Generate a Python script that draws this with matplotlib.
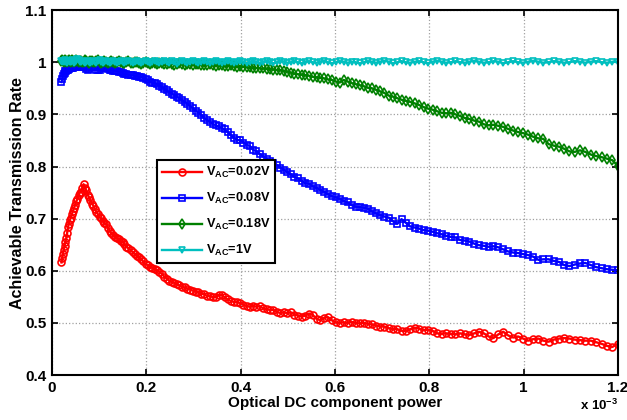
import numpy as np
import matplotlib.pyplot as plt
from matplotlib.ticker import FuncFormatter, MultipleLocator

# fuentes tipo MATLAB (Helvetica negrita)
plt.rcParams['font.family'] = ['Liberation Sans', 'DejaVu Sans']
plt.rcParams['font.weight'] = 'bold'
plt.rcParams['mathtext.fontset'] = 'custom'
plt.rcParams['mathtext.rm'] = 'Liberation Sans:bold'
plt.rcParams['mathtext.bf'] = 'Liberation Sans:bold'
plt.rcParams['mathtext.default'] = 'bf'

# potencia DC optica (W): muestreo mas denso al inicio
p_min = 0.02e-3
p_max = 1.2e-3

tasa_002 = [
    .616, .624, .633, .640, .648, .655, .662, .672, .684, .690,
    .698, .702, .709, .715, .721, .726, .733, .738, .745, .750,
    .752, .758, .766, .758, .754, .746, .741, .735, .729, .725,
    .718, .713, .708, .703, .701, .695, .692, .690, .683, .677,
    .672, .668, .665, .663, .660, .657, .655, .651, .646, .643,
    .640, .636, .632, .629, .626, .622, .618, .613, .611, .608,
    .606, .604, .601, .598, .594, .589, .585, .581, .579, .577,
    .575, .572, .569, .568, .566, .564, .562, .560, .559, .556,
    .555, .552, .551, .550, .549, .553, .554, .549, .545, .542,
    .540, .540, .538, .535, .532, .531, .533, .531, .532, .528,
    .526, .525, .525, .521, .519, .520, .519, .520, .516, .514,
    .512, .514, .518, .515, .508, .505, .510, .511, .505, .501,
    .500, .501, .500, .502, .500, .499, .500, .498, .497, .495,
    .493, .493, .490, .488, .488, .485, .484, .488, .491, .489,
    .486, .487, .485, .480, .479, .480, .479, .478, .480, .478,
    .477, .480, .483, .480, .474, .471, .478, .483, .476, .472,
    .474, .470, .466, .469, .470, .466, .464, .468, .470, .471,
    .470, .468, .467, .466, .466, .463, .460, .456, .454, .460,
]

tasa_008 = [
    .962, .968, .973, .977, .980, .983, .984, .985, .986, .987,
    .988, .988, .989, .989, .990, .990, .991, .991, .991, .992,
    .991, .992, .991, .992, .987, .986, .987, .991, .991, .991,
    .990, .986, .986, .985, .989, .990, .989, .988, .987, .986,
    .985, .984, .984, .983, .982, .981, .980, .978, .977, .976,
    .975, .975, .974, .973, .972, .972, .970, .968, .966, .963,
    .961, .960, .958, .955, .952, .949, .946, .943, .940, .937,
    .934, .931, .927, .924, .920, .916, .912, .907, .903, .899,
    .893, .889, .886, .882, .879, .877, .874, .871, .866, .860,
    .855, .851, .850, .846, .842, .839, .832, .829, .824, .819,
    .815, .811, .806, .803, .798, .794, .789, .785, .780, .777,
    .772, .768, .767, .762, .759, .755, .751, .747, .743, .741,
    .738, .734, .731, .726, .723, .722, .721, .719, .714, .710,
    .707, .704, .702, .695, .690, .699, .692, .685, .683, .681,
    .678, .677, .675, .672, .670, .667, .665, .664, .659, .658,
    .656, .652, .649, .648, .646, .647, .645, .641, .637, .635,
    .634, .632, .630, .627, .621, .622, .622, .619, .617, .611,
    .609, .612, .614, .615, .611, .607, .605, .603, .602, .601,
]

tasa_018 = [
    1.002, 1.004, 1.003, 1.001, 1.003, 1.004, 1.002, 1.000, 1.003, 1.005,
    1.002, 1.001, 1.004, 1.003, 1.000, 1.002, 1.004, 1.003, 1.001, 1.003,
    1.002, 1.000, 1.001, 1.004, 1.003, 1.001, 0.999, 1.002, 1.003, 1.001,
    1.000, 1.002, 1.004, 1.001, 0.999, 1.001, 1.003, 1.000, 0.998, 1.000,
    1.002, 1.001, 0.999, 1.000, 1.003, 1.001, 0.999, 0.998, 1.000, 1.002,
    0.999, 0.998, 1.000, 1.001, 0.999, 0.997, 0.999, 1.001, 0.998, 0.997,
    .999, .998, .996, .998, .999, .997, .996, .998, .997, .995,
    .997, .998, .996, .995, .997, .996, .994, .996, .997, .995,
    .994, .995, .996, .994, .993, .995, .994, .992, .993, .994,
    .992, .991, .992, .991, .990, .990, .989, .989, .988, .988,
    .987, .987, .986, .985, .985, .983, .982, .980, .978, .977,
    .976, .975, .974, .972, .971, .970, .969, .967, .966, .963,
    .961, .966, .963, .960, .958, .956, .954, .951, .950, .947,
    .944, .941, .936, .934, .931, .928, .926, .924, .921, .918,
    .914, .911, .909, .906, .903, .902, .903, .900, .897, .893,
    .891, .888, .886, .881, .879, .880, .878, .876, .872, .869,
    .866, .864, .861, .857, .854, .853, .843, .840, .838, .834,
    .829, .828, .831, .828, .823, .820, .818, .815, .812, .801,
]

tasa_1 = [
    1.002, 1.001, 1.003, 1.000, 1.002, 1.004, 1.001, 0.999, 1.002, 1.003,
    1.000, 1.001, 1.004, 1.002, 0.999, 1.001, 1.003, 1.006, 1.004, 1.001,
    1.000, 1.002, 1.001, 0.999, 1.001, 1.003, 1.000, 0.998, 1.001, 1.002,
    1.000, 0.999, 1.002, 1.004, 1.001, 0.999, 1.000, 1.002, 1.001, 0.998,
    1.000, 1.003, 1.001, 0.999, 1.001, 1.002, 1.000, 0.998, 1.000, 1.002,
    1.001, 0.999, 1.001, 1.003, 1.000, 0.998, 1.001, 1.002, 1.000, 0.999,
    1.001, 1.003, 1.001, 0.998, 1.000, 1.002, 1.001, 0.999, 1.002, 1.000,
    0.997, 1.000, 1.002, 1.000, 0.999, 1.001, 1.003, 1.001, 0.999, 1.000,
    1.002, 1.000, 0.998, 1.001, 1.003, 1.001, 0.999, 1.000, 1.002, 1.000,
    0.999, 1.001, 1.003, 1.001, 0.998, 1.000, 1.002, 1.001, 0.999, 1.001,
    1.002, 1.000, 0.998, 1.000, 1.003, 1.001, 0.999, 1.000, 1.002, 1.000,
    0.998, 1.001, 1.002, 1.000, 0.999, 1.001, 1.003, 1.000, 0.998, 1.000,
    1.002, 1.001, 0.999, 1.001, 1.000, 0.998, 1.000, 1.002, 1.001, 0.999,
    1.001, 1.003, 1.001, 0.998, 1.000, 1.002, 1.000, 0.999, 1.001, 1.002,
    1.000, 0.998, 1.001, 1.003, 1.001, 0.999, 1.000, 1.002, 1.000, 0.999,
    1.001, 1.003, 1.001, 0.999, 1.000, 1.002, 1.001, 0.998, 1.000, 1.002,
    1.000, 0.999, 1.001, 1.003, 1.001, 0.999, 1.000, 1.002, 1.001, 0.999,
    1.000, 1.002, 1.001, 0.999, 1.001, 1.002, 1.000, 0.999, 1.001, 1.000,
]

etiquetas = ['$V_{AC}$=0.02V', '$V_{AC}$=0.08V', '$V_{AC}$=0.18V', '$V_{AC}$=1V']
series = [tasa_002, tasa_008, tasa_018, tasa_1]
colores = ['#ff0000', '#0000ff', '#008000', '#00bfbf']
marcadores = ['o', 's', 'd', 'v']


def eje_potencia(n):
    # rejilla cuadratica: pasos finos cerca de p_min
    return np.linspace(np.sqrt(p_min), np.sqrt(p_max), n) ** 2


fig = plt.figure(figsize=(6.27, 4.2), dpi=100)
ax = fig.add_axes([0.083, 0.107, 0.9025, 0.869])

for y, c, m, lab in zip(series, colores, marcadores, etiquetas):
    ax.plot(eje_potencia(len(y)), y, color=c, marker=m, markersize=5,
            markerfacecolor='none', markeredgewidth=1.2, linewidth=1.7,
            label=lab)

ax.set_xlim(0, 1.2e-3)
ax.set_ylim(0.4, 1.1)
ax.xaxis.set_major_locator(MultipleLocator(0.2e-3))
ax.yaxis.set_major_locator(MultipleLocator(0.1))
ax.xaxis.set_major_formatter(FuncFormatter(lambda v, p: '%g' % round(v * 1e3, 3)))
ax.yaxis.set_major_formatter(FuncFormatter(lambda v, p: '%g' % round(v, 3)))

ax.grid(True, linestyle=':', color='#a0a0a0', linewidth=0.9)
ax.tick_params(direction='in', top=True, right=True, labelsize=11, width=1.2,
               length=4, pad=4)
for s in ax.spines.values():
    s.set_linewidth(1.5)

ax.set_xlabel('Optical DC component power', fontsize=11, fontweight='bold',
              labelpad=1)
ax.set_ylabel('Achievable Transmission Rate', fontsize=11.5, fontweight='bold',
              labelpad=0)
ax.text(1.0, -0.062, 'x 10$^{-3}$', transform=ax.transAxes, ha='right',
        va='top', fontsize=9.5, fontweight='bold')

leg = ax.legend(loc='upper left', bbox_to_anchor=(0.1855, 0.589),
                borderaxespad=0, fontsize=9.2, fancybox=False, framealpha=1,
                edgecolor='black', handlelength=3.1, labelspacing=0.85,
                borderpad=0.4, handletextpad=0.3)
leg.get_frame().set_linewidth(1.5)

fig.savefig('out.png', dpi=100)
